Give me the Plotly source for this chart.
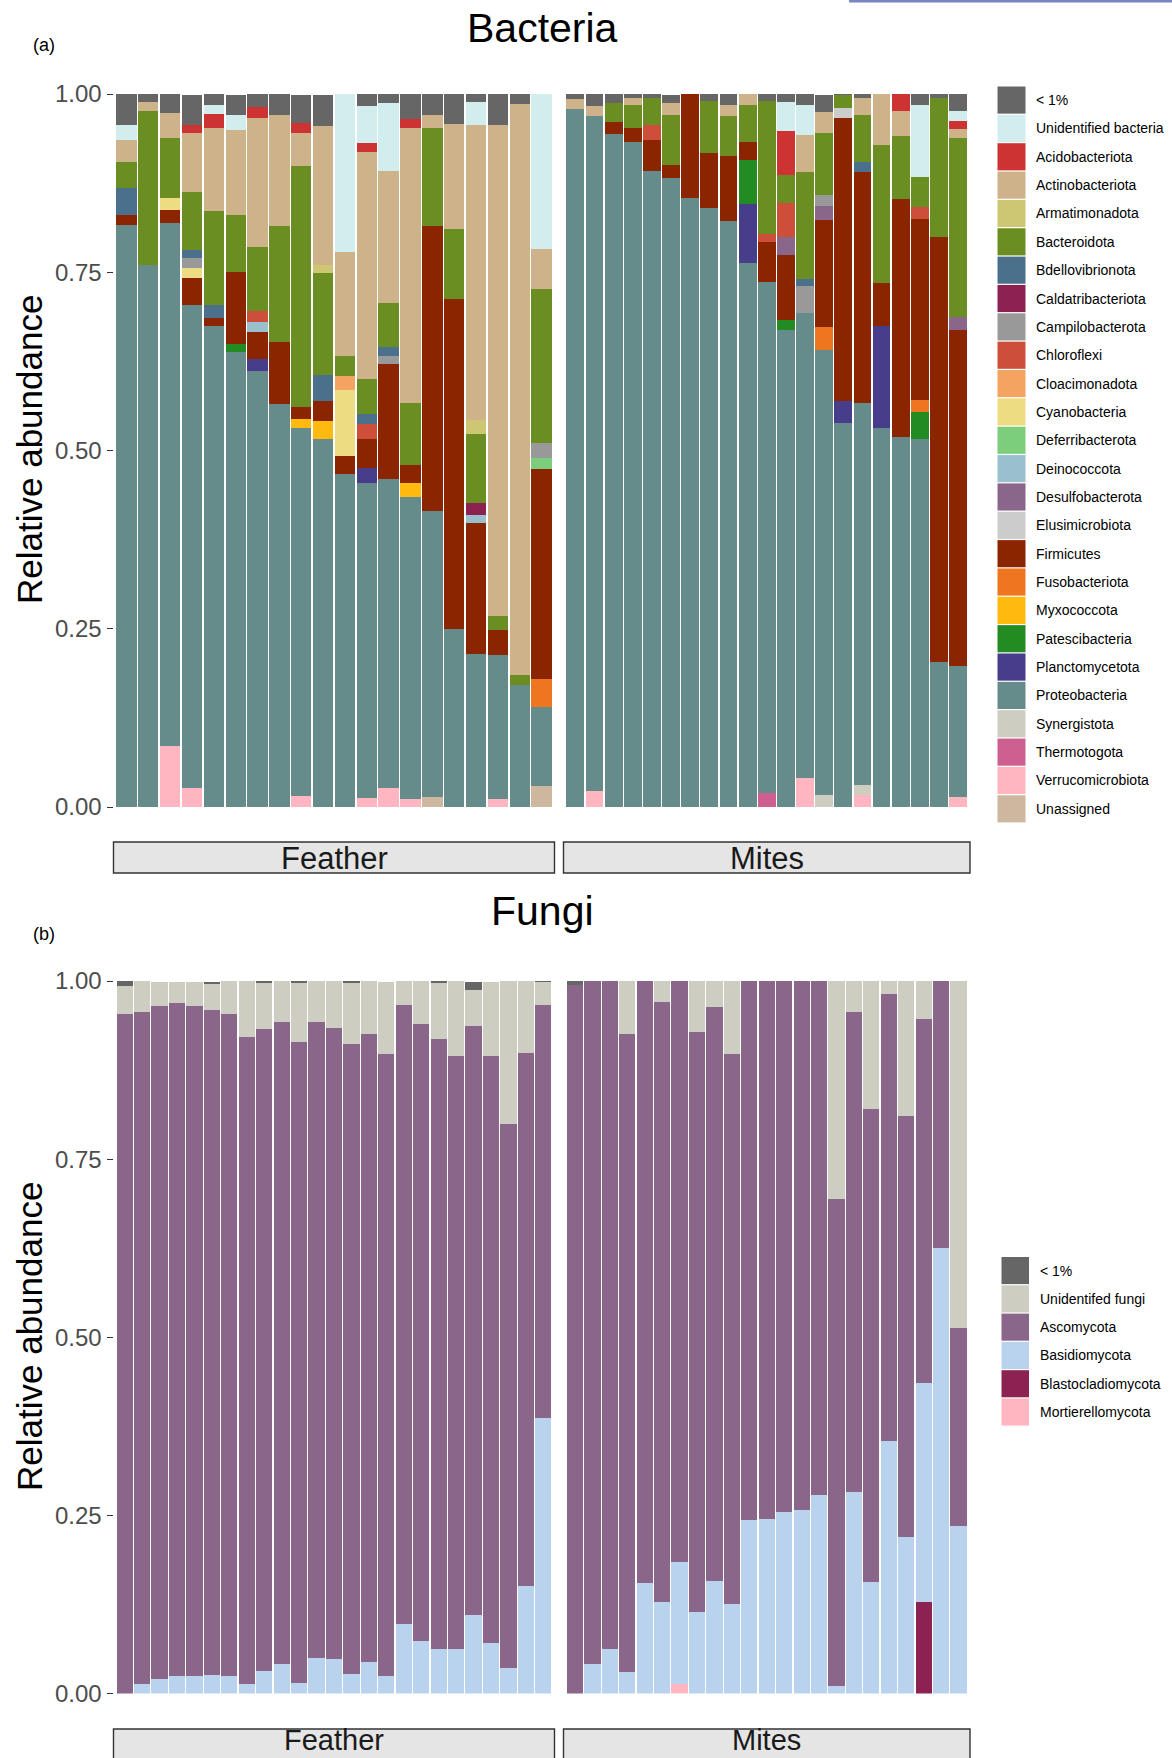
import plotly.graph_objects as go

W, H = 1172, 1758

# ---------------- Bacteria: samples ----------------
bac_feather_samples = ["BF01", "BF02", "BF03", "BF04", "BF05", "BF06", "BF07", "BF08", "BF09", "BF10",
                       "BF11", "BF12", "BF13", "BF14", "BF15", "BF16", "BF17", "BF18", "BF19", "BF20"]
bac_mites_samples = ["BM01", "BM02", "BM03", "BM04", "BM05", "BM06", "BM07", "BM08", "BM09", "BM10",
                     "BM11", "BM12", "BM13", "BM14", "BM15", "BM16", "BM17", "BM18", "BM19", "BM20", "BM21"]

bac_phyla = ["< 1%", "Unidentified bacteria", "Acidobacteriota", "Actinobacteriota", "Armatimonadota",
             "Bacteroidota", "Bdellovibrionota", "Caldatribacteriota", "Campilobacterota", "Chloroflexi",
             "Cloacimonadota", "Cyanobacteria", "Deferribacterota", "Deinococcota", "Desulfobacterota",
             "Elusimicrobiota", "Firmicutes", "Fusobacteriota", "Myxococcota", "Patescibacteria",
             "Planctomycetota", "Proteobacteria", "Synergistota", "Thermotogota", "Verrucomicrobiota",
             "Unassigned"]
bac_colors = ["#666666", "#D1EDED", "#CD3333", "#CDB28A", "#CDC673",
              "#6B8E23", "#4A708B", "#8B2252", "#999999", "#CD4F39",
              "#F4A460", "#EEDC82", "#7CCD7C", "#9AC0CD", "#8B668B",
              "#CCCCCC", "#8B2500", "#EE7621", "#FFB90F", "#228B22",
              "#483D8B", "#668B8B", "#CDCDC1", "#CD6090", "#FFB6C1",
              "#CDB79E"]

# ---- Feather (bacteria), 20 samples ----
bf_lt1 = [.044, .011, .027, .042, .016, .028, .018, .030, .039, .044, 0, .018, .013, .037, .031, .042, .013, .044, .014, 0]
bf_unidentified = [.020, 0, 0, 0, .013, .021, 0, 0, 0, 0, .222, .052, .095, 0, 0, 0, .032, 0, 0, .219]
bf_acidobacteriota = [0, 0, 0, .011, .020, 0, .015, 0, .015, 0, 0, .013, 0, .013, 0, 0, 0, 0, 0, 0]
bf_actinobacteriota = [.032, .013, .035, .084, .116, .119, .181, .156, .046, .195, .147, .318, .185, .386, .017, .147, .414, .689, .801, .056]
bf_armatimonadota = [0, 0, 0, 0, 0, 0, 0, 0, 0, .011, 0, 0, 0, 0, 0, 0, .020, 0, 0, 0]
bf_bacteroidota = [.036, .216, .084, .081, .132, .081, .091, .163, .338, .143, .027, .049, .062, .087, .138, .098, .097, .020, .014, .216]
bf_bdellovibrionota = [.038, 0, 0, .011, .018, 0, 0, 0, 0, .036, 0, .014, .013, 0, 0, 0, 0, 0, 0, 0]
bf_caldatribacteriota = [0, 0, 0, 0, 0, 0, 0, 0, 0, 0, 0, 0, 0, 0, 0, 0, .017, 0, 0, 0]
bf_campilobacterota = [0, 0, 0, .014, 0, 0, 0, 0, 0, 0, 0, 0, .011, 0, 0, 0, 0, 0, 0, .020]
bf_chloroflexi = [0, 0, 0, 0, 0, 0, .015, 0, 0, 0, 0, .021, 0, 0, 0, 0, 0, 0, 0, 0]
bf_cloacimonadota = [0, 0, 0, 0, 0, 0, 0, 0, 0, 0, .020, 0, 0, 0, 0, 0, 0, 0, 0, 0]
bf_cyanobacteria = [0, 0, .017, .014, 0, 0, 0, 0, 0, 0, .093, 0, 0, 0, 0, 0, 0, 0, 0, 0]
bf_deferribacterota = [0, 0, 0, 0, 0, 0, 0, 0, 0, 0, 0, 0, 0, 0, 0, 0, 0, 0, 0, .016]
bf_deinococcota = [0, 0, 0, 0, 0, 0, .014, 0, 0, 0, 0, 0, 0, 0, 0, 0, .010, 0, 0, 0]
bf_firmicutes = [.014, 0, .018, .038, .011, .101, .037, .087, .017, .029, .025, .041, .161, .024, .400, .463, .184, .035, 0, .295]
bf_fusobacteriota = [0, 0, 0, 0, 0, 0, 0, 0, 0, 0, 0, 0, 0, 0, 0, 0, 0, 0, 0, .039]
bf_myxococcota = [0, 0, 0, 0, 0, 0, 0, 0, .013, .025, 0, 0, 0, .020, 0, 0, 0, 0, 0, 0]
bf_patescibacteria = [0, 0, 0, 0, 0, .011, 0, 0, 0, 0, 0, 0, 0, 0, 0, 0, 0, 0, 0, 0]
bf_planctomycetota = [0, 0, 0, 0, 0, 0, .017, 0, 0, 0, 0, .020, 0, 0, 0, 0, 0, 0, 0, 0]
bf_proteobacteria = [.816, .760, .733, .677, .675, .638, .612, .565, .516, .516, .467, .442, .433, .424, .401, .250, .215, .202, .171, .111]
bf_verrucomicrobiota = [0, 0, .086, .027, 0, 0, 0, 0, .015, 0, 0, .013, .027, .011, 0, 0, 0, .011, 0, 0]
bf_unassigned = [0, 0, 0, 0, 0, 0, 0, 0, 0, 0, 0, 0, 0, 0, .014, 0, 0, 0, 0, .029]

# ---- Mites (bacteria), 21 samples ----
bm_lt1 = [.007, .017, .013, .007, .007, .011, 0, .010, .016, 0, .010, .011, .016, .024, .004, .007, 0, 0, .017, .006, .024]
bm_unidentified = [0, 0, 0, 0, 0, 0, 0, 0, 0, 0, 0, .041, .042, 0, 0, 0, 0, 0, .101, 0, .014]
bm_acidobacteriota = [0, 0, 0, 0, 0, 0, 0, 0, 0, 0, 0, .062, 0, 0, 0, 0, 0, .024, 0, 0, .011]
bm_actinobacteriota = [.014, .014, 0, .010, 0, .018, 0, 0, .015, .016, 0, 0, .053, .029, 0, .024, .072, .035, 0, 0, .013]
bm_bacteroidota = [0, 0, .027, .031, .037, .070, 0, .073, .056, .053, .187, .039, .149, .088, .018, .066, .194, .088, .041, .195, .251]
bm_bdellovibrionota = [0, 0, 0, 0, 0, 0, 0, 0, 0, 0, 0, 0, .010, 0, 0, .014, 0, 0, 0, 0, 0]
bm_campilobacterota = [0, 0, 0, 0, 0, 0, 0, 0, 0, 0, 0, 0, .038, .015, 0, 0, 0, 0, 0, 0, 0]
bm_chloroflexi = [0, 0, 0, 0, .021, 0, 0, 0, 0, 0, .011, .048, 0, 0, 0, 0, 0, 0, .017, 0, 0]
bm_desulfobacterota = [0, 0, 0, 0, 0, 0, 0, 0, 0, 0, 0, .025, 0, .020, 0, 0, 0, 0, 0, 0, .018]
bm_elusimicrobiota = [0, 0, 0, 0, 0, 0, 0, 0, 0, 0, 0, 0, 0, 0, .013, 0, 0, 0, 0, 0, 0]
bm_firmicutes = [0, 0, .017, .020, .044, .018, .146, .077, .091, .024, .056, .091, 0, .150, .397, .323, .060, .334, .254, .596, .471]
bm_fusobacteriota = [0, 0, 0, 0, 0, 0, 0, 0, 0, 0, 0, 0, 0, .032, 0, 0, 0, 0, .017, 0, 0]
bm_patescibacteria = [0, 0, 0, 0, 0, 0, 0, 0, 0, .062, 0, .014, 0, 0, 0, 0, 0, 0, .038, 0, 0]
bm_planctomycetota = [0, 0, 0, 0, 0, 0, 0, 0, 0, .083, 0, 0, 0, 0, .031, 0, .143, 0, 0, 0, 0]
bm_proteobacteria = [.979, .947, .944, .933, .892, .882, .854, .840, .822, .763, .716, .669, .652, .624, .539, .536, .532, .519, .516, .203, .184]
bm_synergistota = [0, 0, 0, 0, 0, 0, 0, 0, 0, 0, 0, 0, 0, .017, 0, .014, 0, 0, 0, 0, 0]
bm_thermotogota = [0, 0, 0, 0, 0, 0, 0, 0, 0, 0, .020, 0, 0, 0, 0, 0, 0, 0, 0, 0, 0]
bm_verrucomicrobiota = [0, .022, 0, 0, 0, 0, 0, 0, 0, 0, 0, 0, .041, 0, 0, .017, 0, 0, 0, 0, .014]

# ---------------- Fungi ----------------
fun_feather_samples = ["FF01", "FF02", "FF03", "FF04", "FF05", "FF06", "FF07", "FF08", "FF09", "FF10",
                       "FF11", "FF12", "FF13", "FF14", "FF15", "FF16", "FF17", "FF18", "FF19", "FF20",
                       "FF21", "FF22", "FF23", "FF24", "FF25"]
fun_mites_samples = ["FM01", "FM02", "FM03", "FM04", "FM05", "FM06", "FM07", "FM08", "FM09", "FM10",
                     "FM11", "FM12", "FM13", "FM14", "FM15", "FM16", "FM17", "FM18", "FM19", "FM20",
                     "FM21", "FM22", "FM23"]
fun_phyla = ["< 1%", "Unidentifed fungi", "Ascomycota", "Basidiomycota", "Blastocladiomycota", "Mortierellomycota"]
fun_colors = ["#666666", "#CDCDC1", "#8B668B", "#B9D3EE", "#8B2252", "#FFB6C1"]

ff_lt1 = [.007, 0, 0, 0, 0, .002, 0, 0, .001, 0, .002, 0, 0, .002, 0, 0, 0, 0, .002, 0, .012, 0, 0, 0, .001]
ff_unidentified = [.039, .043, .034, .030, .034, .038, .047, .078, .065, .057, .084, .058, .067, .086, .075,
                   .100, .034, .061, .079, .106, .050, .104, .200, .101, .033]
ff_ascomycota = [.954, .944, .944, .944, .940, .933, .929, .909, .901, .901, .899, .892, .886, .884, .882,
                 .873, .868, .866, .856, .833, .827, .824, .764, .748, .580]
ff_basidiomycota = [0, .013, .021, .025, .025, .026, .024, .013, .032, .042, .015, .050, .048, .028, .044,
                    .025, .098, .073, .063, .062, .110, .071, .036, .151, .386]

fm_lt1 = [.005, 0, 0, 0, 0, 0, 0, 0, 0, 0, 0, 0, 0, 0, 0, 0, 0, 0, 0, 0, 0, 0, 0]
fm_unidentified = [0, 0, 0, .075, 0, .029, 0, .072, .036, .103, 0, 0, 0, 0, 0, .306, .044, .180, .018, .190, .053, 0, .487]
fm_ascomycota = [.995, .958, .938, .896, .845, .842, .816, .813, .806, .771, .757, .755, .745, .742, .721,
                 .683, .673, .663, .628, .591, .511, .375, .278]
fm_basidiomycota = [0, .042, .062, .030, .155, .129, .171, .115, .158, .126, .243, .245, .255, .258, .279,
                    .011, .283, .157, .354, .219, .308, .625, .235]
fm_blastocladiomycota = [0, 0, 0, 0, 0, 0, 0, 0, 0, 0, 0, 0, 0, 0, 0, 0, 0, 0, 0, 0, .128, 0, 0]
fm_mortierellomycota = [0, 0, 0, 0, 0, 0, .013, 0, 0, 0, 0, 0, 0, 0, 0, 0, 0, 0, 0, 0, 0, 0, 0]

# tables built from the lists above
bac_feather = {
    "< 1%": bf_lt1, "Unidentified bacteria": bf_unidentified, "Acidobacteriota": bf_acidobacteriota,
    "Actinobacteriota": bf_actinobacteriota, "Armatimonadota": bf_armatimonadota, "Bacteroidota": bf_bacteroidota,
    "Bdellovibrionota": bf_bdellovibrionota, "Caldatribacteriota": bf_caldatribacteriota,
    "Campilobacterota": bf_campilobacterota, "Chloroflexi": bf_chloroflexi, "Cloacimonadota": bf_cloacimonadota,
    "Cyanobacteria": bf_cyanobacteria, "Deferribacterota": bf_deferribacterota, "Deinococcota": bf_deinococcota,
    "Firmicutes": bf_firmicutes, "Fusobacteriota": bf_fusobacteriota, "Myxococcota": bf_myxococcota,
    "Patescibacteria": bf_patescibacteria, "Planctomycetota": bf_planctomycetota,
    "Proteobacteria": bf_proteobacteria, "Verrucomicrobiota": bf_verrucomicrobiota, "Unassigned": bf_unassigned,
}
bac_mites = {
    "< 1%": bm_lt1, "Unidentified bacteria": bm_unidentified, "Acidobacteriota": bm_acidobacteriota,
    "Actinobacteriota": bm_actinobacteriota, "Bacteroidota": bm_bacteroidota, "Bdellovibrionota": bm_bdellovibrionota,
    "Campilobacterota": bm_campilobacterota, "Chloroflexi": bm_chloroflexi, "Desulfobacterota": bm_desulfobacterota,
    "Elusimicrobiota": bm_elusimicrobiota, "Firmicutes": bm_firmicutes, "Fusobacteriota": bm_fusobacteriota,
    "Patescibacteria": bm_patescibacteria, "Planctomycetota": bm_planctomycetota,
    "Proteobacteria": bm_proteobacteria, "Synergistota": bm_synergistota, "Thermotogota": bm_thermotogota,
    "Verrucomicrobiota": bm_verrucomicrobiota,
}
fun_feather = {"< 1%": ff_lt1, "Unidentifed fungi": ff_unidentified, "Ascomycota": ff_ascomycota,
               "Basidiomycota": ff_basidiomycota}
fun_mites = {"< 1%": fm_lt1, "Unidentifed fungi": fm_unidentified, "Ascomycota": fm_ascomycota,
             "Basidiomycota": fm_basidiomycota, "Blastocladiomycota": fm_blastocladiomycota,
             "Mortierellomycota": fm_mortierellomycota}

FONT = "Liberation Sans, Arial, Helvetica, sans-serif"


def X(px):
    return px / W


def Y(py):
    return 1 - py / H


fig = go.Figure()


def add_stack(table, phyla, colors, samples, xa, ya):
    # ggplot stacks the first level on top -> add traces bottom-up
    for name, col in reversed(list(zip(phyla, colors))):
        if name not in table:
            continue
        fig.add_trace(go.Bar(x=samples, y=table[name], name=name, marker_color=col,
                             marker_line_width=0, width=0.93, xaxis=xa, yaxis=ya,
                             showlegend=False,
                             hovertemplate="%{x}<br>" + name + ": %{y:.3f}<extra></extra>"))


add_stack(bac_feather, bac_phyla, bac_colors, bac_feather_samples, "x", "y")
add_stack(bac_mites, bac_phyla, bac_colors, bac_mites_samples, "x2", "y")
add_stack(fun_feather, fun_phyla, fun_colors, fun_feather_samples, "x3", "y2")
add_stack(fun_mites, fun_phyla, fun_colors, fun_mites_samples, "x4", "y2")

feather_dom = [X(113.5), X(554.5)]
mites_dom = [X(563.5), X(970)]


def xaxis(dom, n, anchor, pad):
    return dict(domain=dom, range=[-0.5 - pad, n - 0.5 + pad], anchor=anchor, type="category",
                showticklabels=False, showgrid=False, zeroline=False, showline=False, ticks="",
                fixedrange=True)


def yaxis(dom, anchor):
    return dict(domain=dom, range=[0, 1], anchor=anchor,
                tickvals=[0, 0.25, 0.5, 0.75, 1.0], ticktext=["0.00", "0.25", "0.50", "0.75", "1.00"],
                ticks="outside", ticklen=6, tickwidth=1.3, tickcolor="#333333",
                tickfont=dict(family=FONT, size=24, color="#4D4D4D"),
                showgrid=False, zeroline=False, showline=False, fixedrange=True, automargin=False)


shapes = []
annotations = []

# facet strips (bacteria strips fully visible; fungi strips run off the bottom edge as in the source)
for (x0, x1, label) in [(113.5, 554.5, "Feather"), (563.5, 970, "Mites")]:
    for (y0, y1, ty, fs) in [(842, 873, 858.5, 31), (1729, 1762, 1740, 29)]:
        shapes.append(dict(type="rect", xref="paper", yref="paper", x0=X(x0), x1=X(x1), y0=Y(y1), y1=Y(y0),
                           fillcolor="#E5E5E5", line=dict(color="#333333", width=1.4), layer="above"))
        annotations.append(dict(text=label, x=X((x0 + x1) / 2), y=Y(ty), xref="paper",
                                yref="paper", showarrow=False, xanchor="center", yanchor="middle",
                                font=dict(family=FONT, size=fs, color="#1A1A1A")))

# titles and tags
annotations += [
    dict(text="Bacteria", x=X(542), y=Y(28), xref="paper", yref="paper", showarrow=False,
         xanchor="center", yanchor="middle", font=dict(family=FONT, size=41, color="black")),
    dict(text="Fungi", x=X(542), y=Y(911), xref="paper", yref="paper", showarrow=False,
         xanchor="center", yanchor="middle", font=dict(family=FONT, size=41, color="black")),
    dict(text="(a)", x=X(44), y=Y(45), xref="paper", yref="paper", showarrow=False,
         xanchor="center", yanchor="middle", font=dict(family=FONT, size=18, color="black")),
    dict(text="(b)", x=X(44), y=Y(934), xref="paper", yref="paper", showarrow=False,
         xanchor="center", yanchor="middle", font=dict(family=FONT, size=18, color="black")),
    dict(text="Relative abundance", x=X(29), y=Y(450), xref="paper", yref="paper", showarrow=False,
         textangle=-90, xanchor="center", yanchor="middle", font=dict(family=FONT, size=35, color="black")),
    dict(text="Relative abundance", x=X(29), y=Y(1337), xref="paper", yref="paper", showarrow=False,
         textangle=-90, xanchor="center", yanchor="middle", font=dict(family=FONT, size=35, color="black")),
]


def legend(phyla, colors, key_x0, key_x1, top, pitch, text_x):
    for i, (name, col) in enumerate(zip(phyla, colors)):
        y0 = top + i * pitch
        y1 = y0 + pitch - 1.2
        shapes.append(dict(type="rect", xref="paper", yref="paper", x0=X(key_x0), x1=X(key_x1),
                           y0=Y(y1), y1=Y(y0), fillcolor=col, line=dict(width=0)))
        annotations.append(dict(text=name, x=X(text_x), y=Y((y0 + y1) / 2), xref="paper", yref="paper",
                                showarrow=False, xanchor="left", yanchor="middle",
                                font=dict(family=FONT, size=14, color="black")))


legend(bac_phyla, bac_colors, 997.5, 1025.5, 86.5, 28.35, 1034)
legend(fun_phyla, fun_colors, 1001.5, 1029, 1257, 28.3, 1038)

# thin band at top-right edge of the source image
shapes.append(dict(type="rect", xref="paper", yref="paper", x0=X(849), x1=1, y0=Y(2.5), y1=1,
                   fillcolor="#7C84C2", line=dict(width=0)))

fig.update_layout(
    width=W, height=H, autosize=False,
    margin=dict(l=0, r=0, t=0, b=0, pad=0, autoexpand=False),
    paper_bgcolor="white", plot_bgcolor="white",
    barmode="stack",
    font=dict(family=FONT),
    xaxis=xaxis(feather_dom, len(bac_feather_samples), "y", 0.09),
    xaxis2=xaxis(mites_dom, len(bac_mites_samples), "y", 0.12),
    xaxis3=xaxis(feather_dom, len(fun_feather_samples), "y2", 0.14),
    xaxis4=xaxis(mites_dom, len(fun_mites_samples), "y2", 0.16),
    yaxis=yaxis([Y(807), Y(94)], "x"),
    yaxis2=yaxis([Y(1693.5), Y(981)], "x3"),
    shapes=shapes,
    annotations=annotations,
    showlegend=False,
)

fig.write_html("out.html", config={"displayModeBar": False},
               post_script="document.body.style.margin='0';document.body.style.overflow='hidden';")
